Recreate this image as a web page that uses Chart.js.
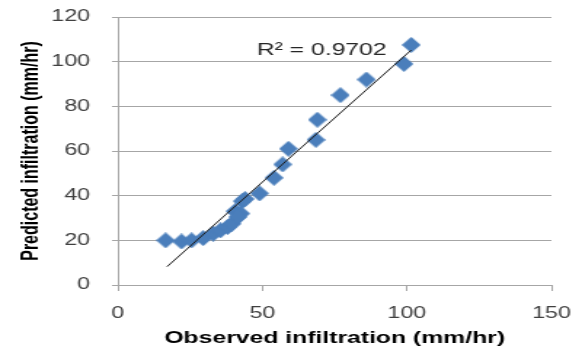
<!DOCTYPE html>
<html>
<head>
<meta charset="utf-8">
<script src="https://cdn.jsdelivr.net/npm/chart.js@4.4.0/dist/chart.umd.min.js"></script>
<style>
  body { margin: 0; background: #fff; overflow: hidden; }
  /* the reference picture is stretched sideways, so draw narrow and stretch */
  #wrap { width: 400px; height: 354px; transform: scale(1.455, 1); transform-origin: 0 0; }
</style>
</head>
<body>
<div id="wrap"><canvas id="infilChart" width="400" height="354"></canvas></div>
<script>
// observed vs predicted infiltration (mm/hr)
const observed = [16.5, 22, 25.5, 29.5, 33, 35.5, 38, 39.5, 40.5, 42.5, 41.5, 43, 44, 49, 54, 57, 59, 68.5, 69, 77, 86, 99, 101.5];
const predicted = [20, 19.5, 20, 21, 23, 24.5, 26, 27.5, 33, 32, 30.5, 37.5, 38.5, 41, 48, 54, 61, 65, 74, 85, 92, 99, 107.5];

// linear trendline end points
const trendX = [17, 101.5];
const trendY = [8.2, 105.2];
const rSquared = 'R² = 0.9702';

const xTicks = [0, 50, 100, 150];
const yTicks = [0, 20, 40, 60, 80, 100, 120];

// diamond marker
const marker = document.createElement('canvas');
marker.width = 13;
marker.height = 16;
const mctx = marker.getContext('2d');
mctx.fillStyle = '#4A7EBB';
mctx.beginPath();
mctx.moveTo(6.5, 0);
mctx.lineTo(13, 8);
mctx.lineTo(6.5, 16);
mctx.lineTo(0, 8);
mctx.closePath();
mctx.fill();

const r2Label = {
    id: 'r2Label',
    afterDatasetsDraw(chart) {
        const ctx = chart.ctx;
        const x = chart.scales.x.getPixelForValue(70.5);
        const y = chart.scales.y.getPixelForValue(105.2);
        ctx.save();
        ctx.font = '17px "Liberation Sans"';
        ctx.fillStyle = '#262626';
        ctx.textAlign = 'center';
        ctx.textBaseline = 'middle';
        ctx.fillText(rSquared, x, y);
        ctx.restore();
    }
};

const ctx = document.getElementById('infilChart').getContext('2d');
new Chart(ctx, {
    type: 'scatter',
    data: {
        datasets: [{
            type: 'line',
            data: trendX.map((x, i) => ({ x: x, y: trendY[i] })),
            borderColor: '#1a1a1a',
            borderWidth: 1,
            pointRadius: 0,
            fill: false,
            order: 0
        }, {
            data: observed.map((x, i) => ({ x: x, y: predicted[i] })),
            pointStyle: marker,
            backgroundColor: '#4A7EBB',
            order: 1
        }]
    },
    options: {
        responsive: false,
        animation: false,
        layout: {
            padding: { top: 17, right: 21, left: 0, bottom: 0 }
        },
        plugins: {
            legend: { display: false },
            tooltip: { enabled: false }
        },
        scales: {
            x: {
                type: 'linear',
                min: 0,
                max: 150,
                afterBuildTicks: function(scale) {
                    scale.ticks = xTicks.map(v => ({ value: v }));
                },
                afterFit: function(scale) {
                    scale.height = 69;
                    scale.paddingLeft = 0;
                    scale.paddingRight = 0;
                },
                grid: {
                    drawOnChartArea: false,
                    color: '#a6a6a6',
                    tickLength: 6
                },
                border: { color: '#a6a6a6' },
                ticks: {
                    color: '#404040',
                    font: { family: 'Liberation Sans', size: 16 },
                    padding: 13,
                    maxRotation: 0
                },
                title: {
                    display: true,
                    text: 'Observed infiltration (mm/hr)',
                    color: '#000',
                    font: { family: 'Liberation Sans', size: 17, weight: 'bold' },
                    padding: { top: 0, bottom: 5 }
                }
            },
            y: {
                type: 'linear',
                min: 0,
                max: 120,
                afterBuildTicks: function(scale) {
                    scale.ticks = yTicks.map(v => ({ value: v }));
                },
                afterFit: function(scale) {
                    scale.width = 81;
                    scale.paddingTop = 0;
                    scale.paddingBottom = 0;
                },
                grid: {
                    color: '#a6a6a6',
                    tickLength: 4
                },
                border: { color: '#a6a6a6' },
                ticks: {
                    color: '#404040',
                    font: { family: 'Liberation Sans', size: 16 },
                    padding: 15
                },
                title: {
                    display: true,
                    text: 'Predicted infiltration (mm/hr)',
                    color: '#000',
                    font: { family: 'Liberation Sans', size: 16, weight: 'bold' },
                    padding: { top: 12, bottom: 0 }
                }
            }
        }
    },
    plugins: [r2Label]
});
</script>
</body>
</html>
